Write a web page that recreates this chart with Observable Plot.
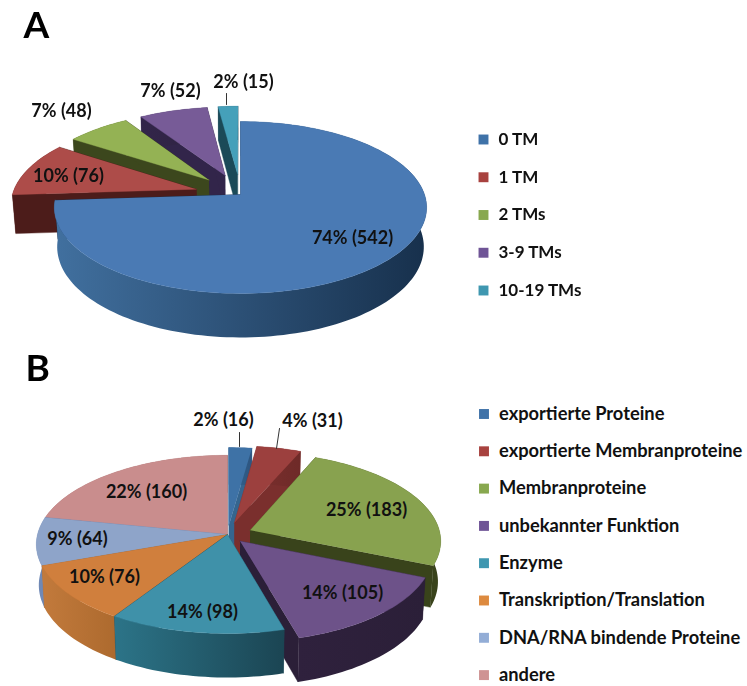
<!DOCTYPE html>
<html><head><meta charset="utf-8">
<script src="https://cdn.jsdelivr.net/npm/d3@7"></script>
<script src="https://cdn.jsdelivr.net/npm/@observablehq/plot@0.6"></script>
<style>
html,body{margin:0;padding:0;background:#fff}
#c svg{display:block;filter:blur(.45px)}
</style></head><body><div id="c"></div>
<script>
// ---- data ----
const tmCategories = ["0 TM","1 TM","2 TMs","3-9 TMs","10-19 TMs"];
const tmCounts = [542,76,48,52,15];
const tmPercents = [74,10,7,7,2];
const fnCategories = ["exportierte Proteine","exportierte Membranproteine","Membranproteine","unbekannter Funktion","Enzyme","Transkription/Translation","DNA/RNA bindende Proteine","andere"];
const fnCounts = [16,31,183,105,98,76,64,160];
const fnPercents = [2,4,25,14,14,10,9,22];

// ---- styles ----
const tmTop = ["#4a7ab4","#ad4c49","#94b254","#775b97","#45a0ba"];
const tmWallL = ["#41709f","#4c1c1a","#3c471d","#32254a","#1b4a58"];
const tmWallR = ["#17304c","#4c1c1a","#3c471d","#2f2340","#1b4a58"];
const tmWall = ["#17304c","#4c1c1a","#3c471d","#32254a","#1b4a58"];
const tmLegend = ["#3f72a8","#a8423f","#88a84f","#6f5496","#3f97b0"];
const fnTop = ["#3e72a6","#9c403e","#88a24f","#6d5289","#3f91a9","#d07f3d","#8ea4c9","#c98d8d"];
const fnWallL = ["#35658f","#7a2f2d","#39431b","#2f213d","#2c7488","#c27a3c","#7088b5","#a87070"];
const fnWallR = ["#2d5580","#6e2a28","#39431b","#2b1f38","#1b4553","#ad6a2e","#6f89b5","#8f5f5f"];
const fnWall = ["#35658f","#7a2f2d","#39431b","#2b1f38","#1b4553","#ad6a2e","#6f89b5","#8f5f5f"];
const fnLegend = ["#3f72a8","#a8423f","#88a84f","#6f5496","#3f97b0","#dd8a3f","#93add6","#cf9393"];

const FONT = "Lato, 'Open Sans', sans-serif";

function project(u, v, z, M) {
  const w = 1 - M.p * v + M.r * z;
  return {x: M.cx + M.k * u / w, y: M.cy + (M.q * v + M.h * z) / w};
}
function pieFaces(values, M, explode, top, wall, wallL, wallR, prefix) {
  const arcs = d3.pie().sort(null)(values);
  const faces = arcs.map((a, i) => {
    const mid = (a.startAngle + a.endAngle) / 2, e = explode[i];
    const ox = e * Math.sin(mid), oy = -e * Math.cos(mid);
    const P = (t, r, z) => project(ox + r * Math.sin(t), oy - r * Math.cos(t), z, M);
    const n = Math.max(6, Math.ceil((a.endAngle - a.startAngle) / 0.03));
    const ts = d3.range(n + 1).map(k => a.startAngle + (a.endAngle - a.startAngle) * k / n);
    const arcTop = ts.map(t => P(t, 1, 0));
    const arcBot = ts.map(t => P(t, 1, 1)).reverse();
    return {
      depth: -Math.cos(mid),
      parts: [
        {pts: [P(0,0,0), arcTop[0], P(a.startAngle,1,1), P(0,0,1)], fill: wall[i]},
        {pts: [P(0,0,0), arcTop[n], P(a.endAngle,1,1), P(0,0,1)], fill: wall[i]},
        {pts: [...arcTop, ...arcBot], fill: `url(#${prefix}${i})`, thin: true},
        {pts: [P(0,0,0), ...arcTop], fill: top[i]}
      ]
    };
  });
  const defs = () => {
    const d = d3.create("svg:defs");
    values.forEach((_, i) => {
      const g = d.append("linearGradient").attr("id", prefix + i);
      g.append("stop").attr("offset", "0%").attr("stop-color", wallL[i]);
      g.append("stop").attr("offset", "100%").attr("stop-color", wallR[i]);
    });
    return d.node();
  };
  const ordered = faces.slice().sort((a, b) => a.depth - b.depth);
  const marks = ordered.flatMap(f => f.parts.map(p =>
    Plot.line(p.pts, {x: "x", y: "y", fill: p.fill, stroke: p.thin ? "none" : p.fill, strokeWidth: 0.4})));
  return [defs, ...marks];
}
function textLabels(percents, counts, places) {
  return Plot.text(percents.map((p, i) => ({t: `${p}% (${counts[i]})`, x: places[i][0], y: places[i][1]})),
    {x: "x", y: "y", text: "t", fontSize: 18, fontWeight: 700, fill: "#111", lineAnchor: "middle", textAnchor: "middle"});
}
function legend(cats, colors, x0, y0, step, size) {
  const rows = cats.map((c, i) => ({c, col: colors[i], y: y0 + i * step}));
  return [
    Plot.dot(rows, {x: () => x0, y: "y", symbol: "square", r: 5.6, fill: "col", stroke: "none"}),
    Plot.text(rows, {x: () => x0 + 15, y: "y", text: "c", textAnchor: "start", lineAnchor: "middle", fontSize: size, fontWeight: 700, fill: "#111"})
  ];
}
function chart(h, y0, marks) {
  return Plot.plot({
    width: 747, height: h, margin: 0,
    x: {domain: [0, 747], range: [0, 747], axis: null},
    y: {domain: [y0, y0 + h], range: [0, h], axis: null},
    color: {type: "identity"},
    style: {fontFamily: FONT, background: "#fff", overflow: "visible"},
    marks
  });
}

const modelA = {cx: 240, cy: 194, k: 184, p: 0.151, q: 84, h: 39.5, r: 0.015};
const explodeA = [0, .25, .25, .25, .25];
const placesA = [[352,238],[68,176],[61,111],[170,91],[243,82]];
const modelB = {cx: 227, cy: 534, k: 190, p: 0.111, q: 88, h: 41, r: 0.013};
const explodeB = [.11, .14, .13, .1, 0, 0, 0, 0];
const placesB = [[223,420],[312,421],[366,510],[342,593],[202,612],[104,577],[77,539],[146,492]];

const leader = (pts) => Plot.line(pts, {x: d => d[0], y: d => d[1], stroke: "#333", strokeWidth: 1});
const heading = (t, x, y) => Plot.text([t], {x: () => x, y: () => y, text: d => d, fontSize: 37, fontWeight: 700, fill: "#000", textAnchor: "start", lineAnchor: "middle"});

const plotA = chart(345, 0, [
  ...pieFaces(tmCounts, modelA, explodeA, tmTop, tmWall, tmWallL, tmWallR, "ga"),
  leader([[226,93],[226,104]]),
  textLabels(tmPercents, tmCounts, placesA),
  ...legend(tmCategories, tmLegend, 483, 139, 37.75, 17),
  heading("A", 23, 26)
]);
const plotB = chart(341, 345, [
  ...pieFaces(fnCounts, modelB, explodeB, fnTop, fnWall, fnWallL, fnWallR, "gb"),
  leader([[239,432],[239,446]]),
  leader([[279,428],[276,448]]),
  textLabels(fnPercents, fnCounts, placesB),
  ...legend(fnCategories, fnLegend, 483.5, 413.5, 37.3, 18.3),
  heading("B", 25, 369)
]);
document.getElementById("c").append(plotA, plotB);
</script></body></html>
